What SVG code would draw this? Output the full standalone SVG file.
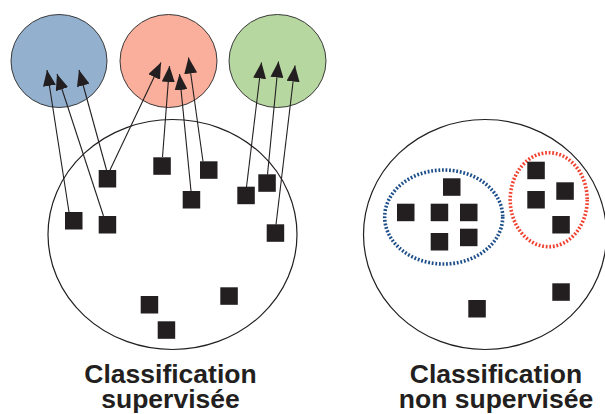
<svg xmlns="http://www.w3.org/2000/svg" width="605" height="414" viewBox="0 0 605 414">
<style>
.sq{fill:#231f20}
.ring{fill:none;stroke:#231f20;stroke-width:1.2}
.cls{stroke:#3a3a3a;stroke-width:1}
.arr{stroke:#231f20;stroke-width:1.1;fill:none;marker-end:url(#ah)}
.lbl{font-family:"Liberation Sans",Arial,sans-serif;font-weight:bold;font-size:26.5px;fill:#231f20;text-anchor:middle}
</style>
<defs>
<marker id="ah" markerUnits="userSpaceOnUse" markerWidth="17" markerHeight="13" refX="16" refY="6.5" orient="auto">
<path d="M0,0 L16,6.5 L0,13 Z" fill="#231f20"/>
</marker>
</defs>
<rect width="605" height="414" fill="#ffffff"/>
<g id="class-blue"><ellipse class="cls" cx="59" cy="61" rx="48" ry="46.5" fill="#93b1cf"/></g>
<g id="class-red"><ellipse class="cls" cx="168.5" cy="61" rx="48.5" ry="46.5" fill="#f9af9b"/></g>
<g id="class-green"><ellipse class="cls" cx="277.5" cy="61" rx="48.5" ry="46.5" fill="#b7d7a1"/></g>
<g id="set-supervised"><ellipse class="ring" cx="172.5" cy="234.5" rx="124.5" ry="115"/></g>
<g id="set-unsupervised"><ellipse class="ring" cx="485" cy="234.5" rx="121.5" ry="115"/></g>
<g id="cluster-blue"><ellipse cx="443.7" cy="217" rx="59" ry="47" fill="none" stroke="#1d4e89" stroke-width="3.6" stroke-dasharray="1.8 1.8"/></g>
<g id="cluster-red"><ellipse cx="548.7" cy="199.7" rx="38.5" ry="47" fill="none" stroke="#f0412f" stroke-width="3.6" stroke-dasharray="1.8 1.8"/></g>
<g id="connectors">
<line class="arr" x1="69" y1="212" x2="47" y2="70"/>
<line class="arr" x1="103.5" y1="216" x2="57" y2="74"/>
<line class="arr" x1="106.5" y1="170" x2="79" y2="70"/>
<line class="arr" x1="110" y1="170" x2="161" y2="62.5"/>
<line class="arr" x1="162.5" y1="157" x2="169.5" y2="66"/>
<line class="arr" x1="191" y1="191" x2="179.5" y2="74"/>
<line class="arr" x1="203" y1="161.5" x2="188.5" y2="57.5"/>
<line class="arr" x1="246.5" y1="187" x2="261.5" y2="62.5"/>
<line class="arr" x1="267.5" y1="174.5" x2="278.5" y2="61.5"/>
<line class="arr" x1="276" y1="224.5" x2="295" y2="65.5"/>
</g>
<g id="points-supervised">
<rect class="sq" x="98.7" y="170" width="17.5" height="17.5"/>
<rect class="sq" x="153.3" y="157.3" width="17.5" height="17.5"/>
<rect class="sq" x="200" y="161.3" width="17.5" height="17.5"/>
<rect class="sq" x="182.7" y="191" width="17.5" height="17.5"/>
<rect class="sq" x="65" y="212" width="17.5" height="17.5"/>
<rect class="sq" x="98.7" y="216" width="17.5" height="17.5"/>
<rect class="sq" x="237.3" y="186.7" width="17.5" height="17.5"/>
<rect class="sq" x="258.3" y="174.3" width="17.5" height="17.5"/>
<rect class="sq" x="266.7" y="224.3" width="17.5" height="17.5"/>
<rect class="sq" x="220.3" y="287.3" width="17.5" height="17.5"/>
<rect class="sq" x="140.7" y="296" width="17.5" height="17.5"/>
<rect class="sq" x="157.7" y="321.3" width="17.5" height="17.5"/>
</g>
<g id="points-unsupervised">
<rect class="sq" x="443" y="178.3" width="17.5" height="17.5"/>
<rect class="sq" x="397" y="203.7" width="17.5" height="17.5"/>
<rect class="sq" x="430.7" y="203.7" width="17.5" height="17.5"/>
<rect class="sq" x="460" y="203.7" width="17.5" height="17.5"/>
<rect class="sq" x="430.7" y="233" width="17.5" height="17.5"/>
<rect class="sq" x="460" y="228.7" width="17.5" height="17.5"/>
<rect class="sq" x="527.3" y="161.7" width="17.5" height="17.5"/>
<rect class="sq" x="527.3" y="191" width="17.5" height="17.5"/>
<rect class="sq" x="556.3" y="182.3" width="17.5" height="17.5"/>
<rect class="sq" x="552.3" y="216" width="17.5" height="17.5"/>
<rect class="sq" x="552.3" y="283.3" width="17.5" height="17.5"/>
<rect class="sq" x="468.3" y="300" width="17.5" height="17.5"/>
</g>
<g id="label-supervised">
<text class="lbl" x="170.5" y="382.5">Classification</text>
<text class="lbl" x="170.5" y="407.5">supervisée</text>
</g>
<g id="label-unsupervised">
<text class="lbl" x="496" y="382.5">Classification</text>
<text class="lbl" x="496" y="407.5">non supervisée</text>
</g>
</svg>
